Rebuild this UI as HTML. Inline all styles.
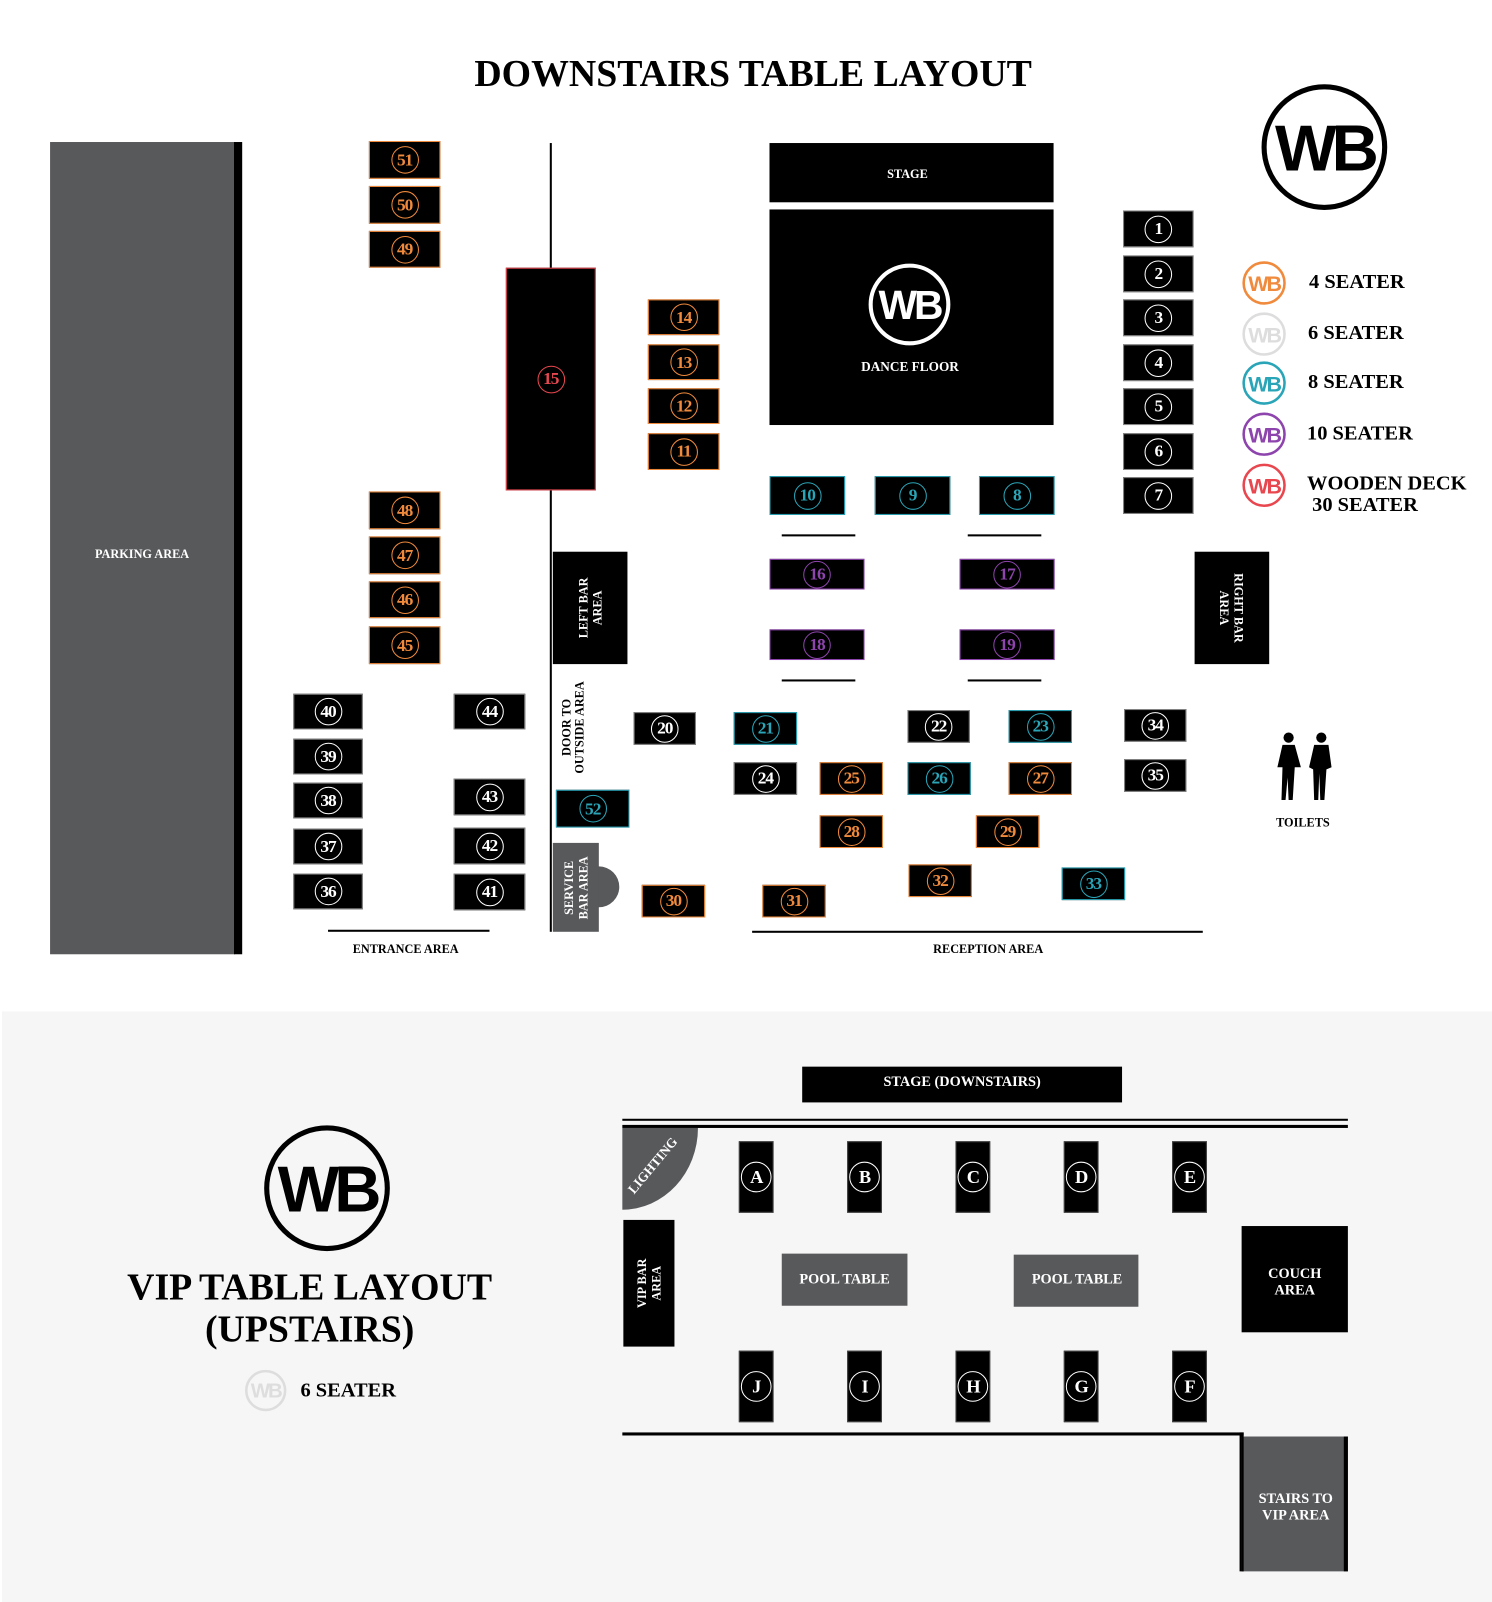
<!DOCTYPE html>
<html><head><meta charset="utf-8">
<style>
html,body{margin:0;padding:0;background:#fff;width:1492px;height:1602px;overflow:hidden}
#w{position:absolute;left:0;top:0;width:1460px;height:1568px;transform:scale(1.0219,1.0217);transform-origin:0 0;font-family:"Liberation Serif",serif;font-weight:bold}
.a{position:absolute;box-sizing:border-box}
.t{position:absolute;box-sizing:border-box;background:#000;border:1px solid #888;display:flex;align-items:center;justify-content:center}
.c{width:27px;height:27px;border-radius:50%;border:1.3px solid #fff;color:#fff;display:flex;align-items:center;justify-content:center;font-size:17px;box-sizing:border-box;letter-spacing:-1px}
.o{border-color:#f08a3c}.o .c{border-color:#f08a3c;color:#f08a3c}
.tl{border-color:#2aa5b8}.tl .c{border-color:#2aa5b8;color:#2aa5b8}
.p{border-color:#8e44ad}.p .c{border-color:#8e44ad;color:#8e44ad}
.r{border-color:#e8474f}.r .c{border-color:#e8474f;color:#e8474f}
.lbl{position:absolute;color:#fff;font-size:12px;text-align:center;line-height:13px}
.blk{color:#000}
.line{position:absolute;background:#000}
.v{position:absolute;background:#000;display:flex;align-items:center;justify-content:center}
.v span{transform:rotate(-90deg);color:#fff;font-size:12px;text-align:center;line-height:14px;white-space:nowrap;display:block}
.vt .c{width:30px;height:30px;font-size:18px}
.lg{position:absolute;font-size:20px}
</style></head><body><div id="w">

<div class="a" style="left:0;top:51px;width:1474px;text-align:center;font-size:37px">DOWNSTAIRS TABLE LAYOUT</div>

<div class="a" style="left:49px;top:139px;width:181px;height:795px;background:#58595b"></div>
<div class="a" style="left:229px;top:139px;width:8px;height:795px;background:#000"></div>
<div class="lbl" style="left:49px;top:536px;width:180px">PARKING AREA</div>

<div class="line" style="left:538px;top:140px;width:2px;height:772px"></div>

<div class="t o" style="left:361px;top:138px;width:70px;height:37px"><div class="c">51</div></div>
<div class="t o" style="left:361px;top:182px;width:70px;height:37px"><div class="c">50</div></div>
<div class="t o" style="left:361px;top:226px;width:70px;height:36px"><div class="c">49</div></div>
<div class="t o" style="left:361px;top:481px;width:70px;height:37px"><div class="c">48</div></div>
<div class="t o" style="left:361px;top:525px;width:70px;height:37px"><div class="c">47</div></div>
<div class="t o" style="left:361px;top:569px;width:70px;height:36px"><div class="c">46</div></div>
<div class="t o" style="left:361px;top:613px;width:70px;height:37px"><div class="c">45</div></div>

<div class="t r" style="left:495px;top:262px;width:88px;height:218px"><div class="c">15</div></div>

<div class="t o" style="left:634px;top:293px;width:70px;height:35px"><div class="c">14</div></div>
<div class="t o" style="left:634px;top:337px;width:70px;height:35px"><div class="c">13</div></div>
<div class="t o" style="left:634px;top:380px;width:70px;height:35px"><div class="c">12</div></div>
<div class="t o" style="left:634px;top:424px;width:70px;height:36px"><div class="c">11</div></div>

<div class="a" style="left:753px;top:140px;width:278px;height:58px;background:#000"></div>
<div class="lbl" style="left:753px;top:164px;width:270px">STAGE</div>
<div class="a" style="left:753px;top:205px;width:278px;height:211px;background:#000"></div>
<svg class="a" style="left:848px;top:256px" width="84" height="84" viewBox="0 0 84 84">
<circle cx="42" cy="42" r="38" fill="none" stroke="#fff" stroke-width="4"/>
<text x="42" y="56" text-anchor="middle" font-family="Liberation Sans" font-weight="bold" font-size="40" fill="#fff" letter-spacing="-3">WB</text></svg>
<div class="lbl" style="left:753px;top:352px;width:275px;font-size:13px">DANCE FLOOR</div>

<div class="t tl" style="left:753px;top:466px;width:74px;height:38px"><div class="c">10</div></div>
<div class="t tl" style="left:856px;top:466px;width:74px;height:38px"><div class="c">9</div></div>
<div class="t tl" style="left:958px;top:466px;width:74px;height:38px"><div class="c">8</div></div>
<div class="line" style="left:765px;top:523px;width:72px;height:2px"></div>
<div class="line" style="left:947px;top:523px;width:72px;height:2px"></div>
<div class="t p" style="left:753px;top:547px;width:93px;height:30px"><div class="c">16</div></div>
<div class="t p" style="left:939px;top:547px;width:93px;height:30px"><div class="c">17</div></div>
<div class="t p" style="left:753px;top:616px;width:93px;height:30px"><div class="c">18</div></div>
<div class="t p" style="left:939px;top:616px;width:93px;height:30px"><div class="c">19</div></div>
<div class="line" style="left:765px;top:665px;width:72px;height:2px"></div>
<div class="line" style="left:947px;top:665px;width:72px;height:2px"></div>

<div class="t" style="left:1099px;top:206px;width:69px;height:36px"><div class="c">1</div></div>
<div class="t" style="left:1099px;top:250px;width:69px;height:36px"><div class="c">2</div></div>
<div class="t" style="left:1099px;top:293px;width:69px;height:36px"><div class="c">3</div></div>
<div class="t" style="left:1099px;top:337px;width:69px;height:36px"><div class="c">4</div></div>
<div class="t" style="left:1099px;top:380px;width:69px;height:36px"><div class="c">5</div></div>
<div class="t" style="left:1099px;top:424px;width:69px;height:36px"><div class="c">6</div></div>
<div class="t" style="left:1099px;top:467px;width:69px;height:36px"><div class="c">7</div></div>

<div class="v" style="left:541px;top:540px;width:73px;height:110px"><span>LEFT BAR<br>AREA</span></div>
<div class="v" style="left:1169px;top:540px;width:73px;height:110px"><span style="transform:rotate(90deg)">RIGHT BAR<br>AREA</span></div>

<div class="t" style="left:287px;top:679px;width:68px;height:35px"><div class="c">40</div></div>
<div class="t" style="left:287px;top:723px;width:68px;height:35px"><div class="c">39</div></div>
<div class="t" style="left:287px;top:766px;width:68px;height:35px"><div class="c">38</div></div>
<div class="t" style="left:287px;top:811px;width:68px;height:35px"><div class="c">37</div></div>
<div class="t" style="left:287px;top:855px;width:68px;height:35px"><div class="c">36</div></div>
<div class="t" style="left:444px;top:679px;width:70px;height:35px"><div class="c">44</div></div>
<div class="t" style="left:444px;top:762px;width:70px;height:36px"><div class="c">43</div></div>
<div class="t" style="left:444px;top:810px;width:70px;height:36px"><div class="c">42</div></div>
<div class="t" style="left:444px;top:855px;width:70px;height:36px"><div class="c">41</div></div>
<div class="line" style="left:321px;top:910px;width:158px;height:2px"></div>
<div class="lbl blk" style="left:321px;top:923px;width:152px">ENTRANCE AREA</div>

<div class="a" style="left:541px;top:664px;width:40px;height:95px;display:flex;align-items:center;justify-content:center"><span style="transform:rotate(-90deg);font-size:12px;line-height:13px;text-align:center;white-space:nowrap;display:block">DOOR TO<br>OUTSIDE AREA</span></div>
<div class="t tl" style="left:544px;top:773px;width:72px;height:37px"><div class="c">52</div></div>
<div class="a" style="left:566px;top:848px;width:40px;height:40px;border-radius:50%;background:#58595b"></div>
<div class="v" style="left:541px;top:825px;width:45px;height:87px;background:#58595b"><span>SERVICE<br>BAR AREA</span></div>

<div class="t" style="left:620px;top:697px;width:61px;height:32px"><div class="c">20</div></div>
<div class="t tl" style="left:718px;top:697px;width:62px;height:32px"><div class="c">21</div></div>
<div class="t" style="left:888px;top:695px;width:61px;height:32px"><div class="c">22</div></div>
<div class="t tl" style="left:987px;top:695px;width:62px;height:32px"><div class="c">23</div></div>
<div class="t" style="left:1100px;top:694px;width:61px;height:32px"><div class="c">34</div></div>
<div class="t" style="left:1100px;top:743px;width:61px;height:32px"><div class="c">35</div></div>
<div class="t" style="left:718px;top:746px;width:62px;height:32px"><div class="c">24</div></div>
<div class="t o" style="left:802px;top:746px;width:62px;height:32px"><div class="c">25</div></div>
<div class="t tl" style="left:888px;top:746px;width:62px;height:32px"><div class="c">26</div></div>
<div class="t o" style="left:987px;top:746px;width:62px;height:32px"><div class="c">27</div></div>
<div class="t o" style="left:802px;top:798px;width:62px;height:32px"><div class="c">28</div></div>
<div class="t o" style="left:955px;top:798px;width:62px;height:32px"><div class="c">29</div></div>
<div class="t o" style="left:889px;top:846px;width:62px;height:32px"><div class="c">32</div></div>
<div class="t tl" style="left:1039px;top:849px;width:62px;height:32px"><div class="c">33</div></div>
<div class="t o" style="left:628px;top:866px;width:62px;height:32px"><div class="c">30</div></div>
<div class="t o" style="left:746px;top:866px;width:62px;height:32px"><div class="c">31</div></div>
<div class="line" style="left:736px;top:911px;width:441px;height:2px"></div>
<div class="lbl blk" style="left:867px;top:923px;width:200px">RECEPTION AREA</div>

<svg class="a" style="left:1246px;top:715px" width="62" height="70" viewBox="0 0 62 70">
<circle cx="15" cy="7" r="5"/><path d="M9 14h12l6 22h-6l-2 32h-4l-1-22-2 22h-4l1-32H4z"/>
<circle cx="47" cy="7" r="5"/><path d="M40 14h14l3 22-5 2-2 30h-4l-1-26-1 26h-4l-1-30-4-2z"/>
<rect x="30" y="2" width="2" height="66" fill="#fff"/></svg>
<div class="lbl blk" style="left:1230px;top:799px;width:90px">TOILETS</div>

<svg class="a" style="left:1232px;top:80px" width="128" height="128" viewBox="0 0 128 128">
<circle cx="64" cy="64" r="59" fill="none" stroke="#000" stroke-width="5"/>
<text x="64" y="87" text-anchor="middle" font-family="Liberation Sans" font-weight="bold" font-size="64" letter-spacing="-5">WB</text></svg>

<svg class="a" style="left:1214px;top:254px" width="48" height="250" viewBox="0 0 48 250">
<g font-family="Liberation Sans" font-weight="bold" font-size="21" text-anchor="middle" letter-spacing="-2" stroke-width="2.5" fill="none">
<circle cx="23" cy="23" r="20" stroke="#f08a3c"/><text x="23" y="31" fill="#f08a3c" stroke="none">WB</text>
<circle cx="23" cy="73" r="20" stroke="#ddd"/><text x="23" y="81" fill="#ddd" stroke="none">WB</text>
<circle cx="23" cy="121" r="20" stroke="#2aa5b8"/><text x="23" y="129" fill="#2aa5b8" stroke="none">WB</text>
<circle cx="23" cy="171" r="20" stroke="#8e44ad"/><text x="23" y="179" fill="#8e44ad" stroke="none">WB</text>
<circle cx="23" cy="221" r="20" stroke="#e8474f"/><text x="23" y="229" fill="#e8474f" stroke="none">WB</text>
</g></svg>
<div class="lg" style="left:1281px;top:265px">4 SEATER</div>
<div class="lg" style="left:1280px;top:315px">6 SEATER</div>
<div class="lg" style="left:1280px;top:363px">8 SEATER</div>
<div class="lg" style="left:1279px;top:413px">10 SEATER</div>
<div class="lg" style="left:1279px;top:463px;line-height:21px">WOODEN DECK<br>&nbsp;30 SEATER</div>

<div class="a" style="left:2px;top:990px;width:1458px;height:578px;background:#f6f6f6"></div>
<svg class="a" style="left:256px;top:1099px" width="128" height="128" viewBox="0 0 128 128">
<circle cx="64" cy="64" r="59" fill="none" stroke="#000" stroke-width="5"/>
<text x="64" y="87" text-anchor="middle" font-family="Liberation Sans" font-weight="bold" font-size="64" letter-spacing="-5">WB</text></svg>
<div class="a" style="left:70px;top:1240px;width:466px;text-align:center;font-size:37px;line-height:41px">VIP TABLE LAYOUT<br>(UPSTAIRS)</div>
<svg class="a" style="left:238px;top:1339px" width="44" height="44" viewBox="0 0 44 44">
<circle cx="22" cy="22" r="19" fill="none" stroke="#ddd" stroke-width="2.5"/>
<text x="22" y="29" text-anchor="middle" font-family="Liberation Sans" font-weight="bold" font-size="20" fill="#ddd" letter-spacing="-2">WB</text></svg>
<div class="lg" style="left:294px;top:1350px">6 SEATER</div>

<div class="a" style="left:785px;top:1044px;width:313px;height:35px;background:#000"></div>
<div class="lbl" style="left:785px;top:1053px;width:313px;font-size:14px">STAGE (DOWNSTAIRS)</div>
<div class="line" style="left:609px;top:1095px;width:710px;height:2px"></div>
<div class="line" style="left:609px;top:1101px;width:710px;height:3px"></div>
<div class="a" style="left:609px;top:1104px;width:74px;height:80px;background:#58595b;border-bottom-right-radius:74px 80px"></div>
<div class="a" style="left:603px;top:1128px;width:80px;color:#fff;font-size:13px;transform:rotate(-50deg)">LIGHTING</div>
<div class="v" style="left:610px;top:1194px;width:50px;height:124px"><span>VIP BAR<br>AREA</span></div>

<div class="t vt" style="left:723px;top:1117px;width:34px;height:70px;border-color:#444"><div class="c">A</div></div>
<div class="t vt" style="left:829px;top:1117px;width:34px;height:70px;border-color:#444"><div class="c">B</div></div>
<div class="t vt" style="left:935px;top:1117px;width:34px;height:70px;border-color:#444"><div class="c">C</div></div>
<div class="t vt" style="left:1041px;top:1117px;width:34px;height:70px;border-color:#444"><div class="c">D</div></div>
<div class="t vt" style="left:1147px;top:1117px;width:34px;height:70px;border-color:#444"><div class="c">E</div></div>
<div class="t vt" style="left:723px;top:1322px;width:34px;height:70px;border-color:#444"><div class="c">J</div></div>
<div class="t vt" style="left:829px;top:1322px;width:34px;height:70px;border-color:#444"><div class="c">I</div></div>
<div class="t vt" style="left:935px;top:1322px;width:34px;height:70px;border-color:#444"><div class="c">H</div></div>
<div class="t vt" style="left:1041px;top:1322px;width:34px;height:70px;border-color:#444"><div class="c">G</div></div>
<div class="t vt" style="left:1147px;top:1322px;width:34px;height:70px;border-color:#444"><div class="c">F</div></div>

<div class="a" style="left:765px;top:1227px;width:123px;height:51px;background:#58595b"></div>
<div class="lbl" style="left:765px;top:1246px;width:123px;font-size:14px">POOL TABLE</div>
<div class="a" style="left:992px;top:1228px;width:122px;height:51px;background:#58595b"></div>
<div class="lbl" style="left:992px;top:1246px;width:124px;font-size:14px">POOL TABLE</div>
<div class="a" style="left:1215px;top:1200px;width:104px;height:104px;background:#000"></div>
<div class="lbl" style="left:1215px;top:1240px;width:104px;font-size:14px;line-height:16px">COUCH<br>AREA</div>

<div class="line" style="left:609px;top:1402px;width:608px;height:3px"></div>
<div class="line" style="left:1213px;top:1402px;width:4px;height:136px"></div>
<div class="a" style="left:1215px;top:1406px;width:104px;height:132px;background:#58595b;border-right:4px solid #000;border-left:2px solid #000"></div>
<div class="lbl" style="left:1215px;top:1460px;width:106px;font-size:14px;line-height:16px">STAIRS TO<br>VIP AREA</div>

</div></body></html>
